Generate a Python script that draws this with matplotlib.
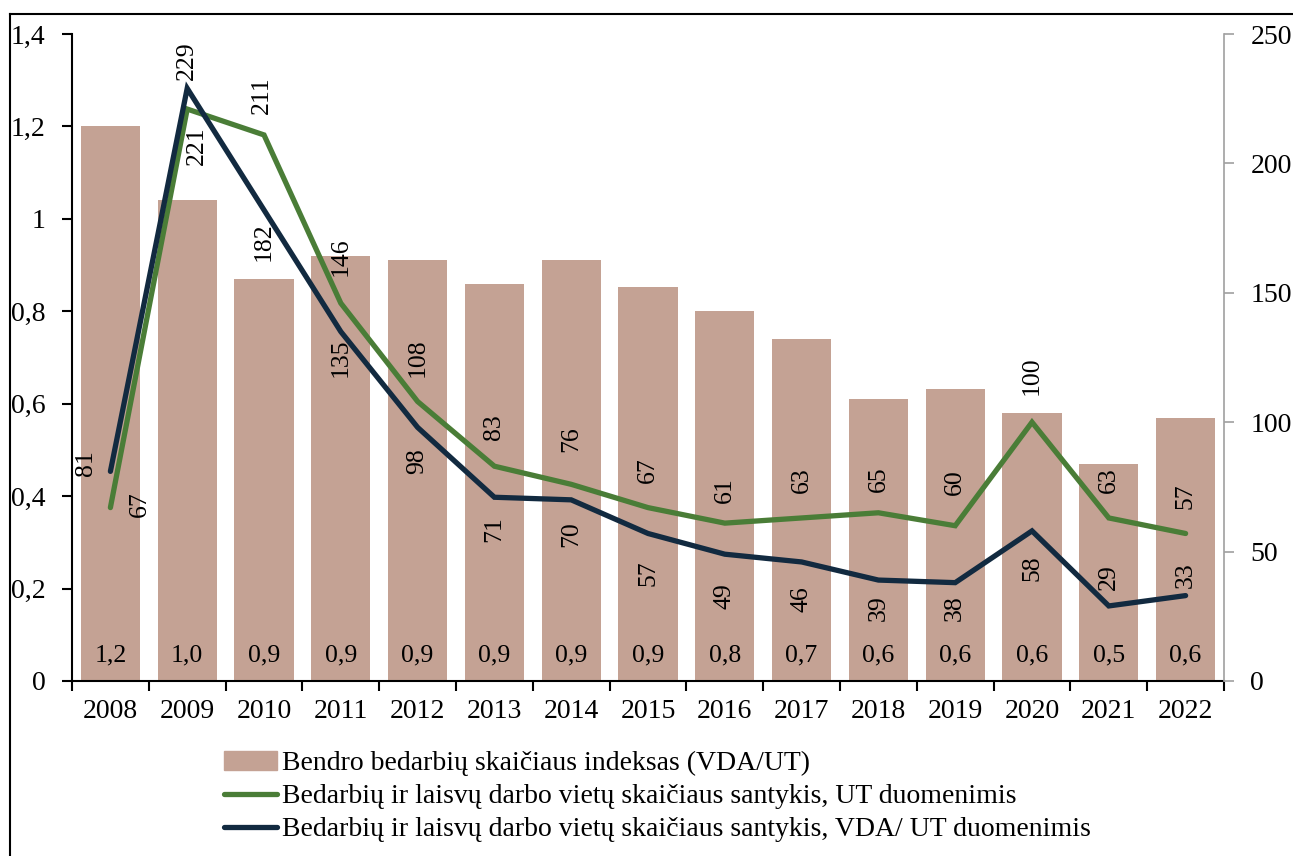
import matplotlib
matplotlib.use("Agg")
import matplotlib.pyplot as plt
from matplotlib.patches import Patch
from matplotlib.lines import Line2D
from matplotlib.ticker import FuncFormatter

plt.rcParams['font.family'] = ['Liberation Serif', 'DejaVu Serif']

years = ['2008', '2009', '2010', '2011', '2012', '2013', '2014', '2015',
         '2016', '2017', '2018', '2019', '2020', '2021', '2022']
index_vda_ut = [1.20, 1.04, 0.87, 0.92, 0.91, 0.86, 0.91, 0.852,
                0.80, 0.74, 0.61, 0.632, 0.58, 0.47, 0.57]
ratio_ut = [67, 221, 211, 146, 108, 83, 76, 67, 61, 63, 65, 60, 100, 63, 57]
ratio_vda_ut = [81, 229, 182, 135, 98, 71, 70, 57, 49, 46, 39, 38, 58, 29, 33]

legend_labels = ['Bendro bedarbių skaičiaus indeksas (VDA/UT)',
                 'Bedarbių ir laisvų darbo vietų skaičiaus santykis, UT duomenimis',
                 'Bedarbių ir laisvų darbo vietų skaičiaus santykis, VDA/ UT duomenimis']

# label offsets in pixels (dx, dy)
off_ut = [(29, 3), (10, -37), (-2, 40), (0, 46), (0, 44), (0, 39), (0, 45), (0, 37),
          (0, 33), (0, 38), (0, 34), (0, 44), (0, 47), (0, 38), (0, 37)]
off_vda = [(-24, 8), (0, 28), (0, -32), (0, -26), (0, -34), (0, -32), (0, -34), (0, -40),
           (0, -42), (0, -37), (0, -28), (0, -25), (0, -37), (0, 29), (0, 20)]

bar_col = '#C4A294'
green = '#4A7D37'
navy = '#122A40'

fig = plt.figure(figsize=(12.93, 8.56), dpi=100)
ax = fig.add_axes([72 / 1293, 1 - 681 / 856, (1224 - 72) / 1293, (681 - 34) / 856])
ax2 = ax.twinx()

x = list(range(len(years)))
ax.bar(x, index_vda_ut, width=0.77, color=bar_col, zorder=1)
ax.set_xlim(-0.5, len(years) - 0.5)
ax.set_ylim(0, 1.4)
ax.set_yticks([0, 0.2, 0.4, 0.6, 0.8, 1.0, 1.2, 1.4])
ax.yaxis.set_major_formatter(FuncFormatter(lambda v, p: f"{v:g}".replace('.', ',')))
ax.set_xticks([i - 0.5 for i in range(len(years) + 1)], minor=False)
ax.set_xticklabels([])
ax.set_xticks(x, minor=True)
ax.set_xticklabels(years, minor=True)
ax.tick_params(axis='x', which='minor', length=0, labelsize=20, pad=13)
ax.tick_params(axis='x', which='major', length=7, width=1.5, direction='out')
ax.tick_params(axis='y', length=7, width=1.5, labelsize=20, pad=12)
for s in ['top', 'right']:
    ax.spines[s].set_visible(False)
ax.spines['left'].set_linewidth(1.5)
ax.spines['bottom'].set_linewidth(1.5)

for i, v in enumerate(index_vda_ut):
    ax.annotate(f"{v:.1f}".replace('.', ','), (i, 0), xytext=(0, 26),
                textcoords='offset pixels', ha='center', va='center', fontsize=18.5)

ax2.plot(x, ratio_ut, color=green, lw=3.8, solid_capstyle='round', solid_joinstyle='miter', zorder=3)
ax2.plot(x, ratio_vda_ut, color=navy, lw=3.8, solid_capstyle='round', solid_joinstyle='miter', zorder=4)
ax2.set_ylim(0, 250)
ax2.set_yticks([0, 50, 100, 150, 200, 250])
ax2.tick_params(axis='y', length=7, width=1.2, color='#A0A0A0', labelsize=20, pad=12)
for s in ['top', 'left', 'bottom']:
    ax2.spines[s].set_visible(False)
ax2.spines['right'].set_color('#A0A0A0')
ax2.spines['right'].set_linewidth(1.2)

for i, v in enumerate(ratio_ut):
    ax2.annotate(str(v), (i, v), xytext=off_ut[i], textcoords='offset pixels',
                 ha='center', va='center', rotation=90, fontsize=18.5)
for i, v in enumerate(ratio_vda_ut):
    ax2.annotate(str(v), (i, v), xytext=off_vda[i], textcoords='offset pixels',
                 ha='center', va='center', rotation=90, fontsize=18.5)

handles = [Patch(color=bar_col),
           Line2D([], [], color=green, lw=3.8, solid_capstyle='round'),
           Line2D([], [], color=navy, lw=3.8, solid_capstyle='round')]
fig.legend(handles, legend_labels, loc='upper left', bbox_to_anchor=(224 / 1293, 1 - 751 / 856),
           frameon=False, fontsize=20, handlelength=1.9, handletextpad=0.2,
           labelspacing=0.27, borderpad=0, borderaxespad=0)

# outer frame lines (top and left)
fig.add_artist(Line2D([10 / 1293, 1], [1 - 14 / 856, 1 - 14 / 856], color='black', lw=1.5))
fig.add_artist(Line2D([10 / 1293, 10 / 1293], [0, 1 - 14 / 856], color='black', lw=1.5))

fig.savefig('out.png', dpi=100)
